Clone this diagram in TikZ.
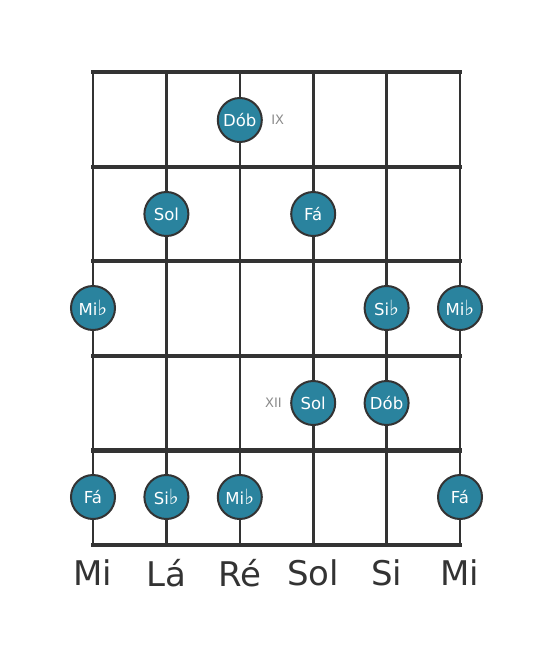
\documentclass[tikz,border=0pt]{standalone}
\usepackage{fontspec}
\setmainfont{DejaVu Sans}
\usetikzlibrary{positioning}
\definecolor{notefill}{HTML}{2A839E}
\definecolor{gridline}{HTML}{333333}
\definecolor{fretnum}{HTML}{8A8A8A}
\newcommand{\flt}{\raisebox{-0.02em}{\fontsize{21}{21}\selectfont ♭}}

\begin{document}
\begin{tikzpicture}[x=1pt,y=-1pt]
\tikzstyle{note}=[circle,draw=gridline,line width=2pt,fill=notefill,minimum size=44pt,inner sep=0pt,text=white,font=\fontsize{16.5}{16.5}\selectfont]
\tikzstyle{strname}=[text=gridline,font=\fontsize{34}{34}\selectfont]
\tikzstyle{fretno}=[text=fretnum,font=\fontsize{13}{13}\selectfont]
\useasboundingbox (0,0) rectangle (553,656);
% strings
\foreach \s in {93,166.4,239.8,313.2,386.6,460}
  \draw [gridline,line width=2.6pt] (\s,72) -- (\s,545);
% frets
\foreach \f in {72,166.6,261.2,355.8,450.4,545}
  \draw [gridline,line width=4.2pt,line cap=rect] (93,\f) -- (460,\f);
% notes
\node [note] (dob1) at (239.8,120) {Dób};
\node [fretno,right=5pt of dob1] (ix) {IX};
\node [note] (sol1) at (166.4,214) {Sol};
\node [note] (fa1) at (313.2,214) {Fá};
\node [note] (mib1) at (93,308) {Mi\flt};
\node [note] (sib1) at (386.6,308) {Si\flt};
\node [note] (mib2) at (460,308) {Mi\flt};
\node [note] (sol2) at (313.2,403) {Sol};
\node [fretno,left=5pt of sol2] (xii) {XII};
\node [note] (dob2) at (386.6,403) {Dób};
\node [note] (fa2) at (93,497) {Fá};
\node [note] (sib2) at (166.4,497) {Si\flt};
\node [note] (mib3) at (239.8,497) {Mi\flt};
\node [note] (fa3) at (460,497) {Fá};
% string names
\node [strname] (s1) at (93,573) {Mi};
\node [strname] (s2) at (166.4,573) {Lá};
\node [strname] (s3) at (239.8,573) {Ré};
\node [strname] (s4) at (313.2,573) {Sol};
\node [strname] (s5) at (386.6,573) {Si};
\node [strname] (s6) at (460,573) {Mi};
\end{tikzpicture}
\end{document}
